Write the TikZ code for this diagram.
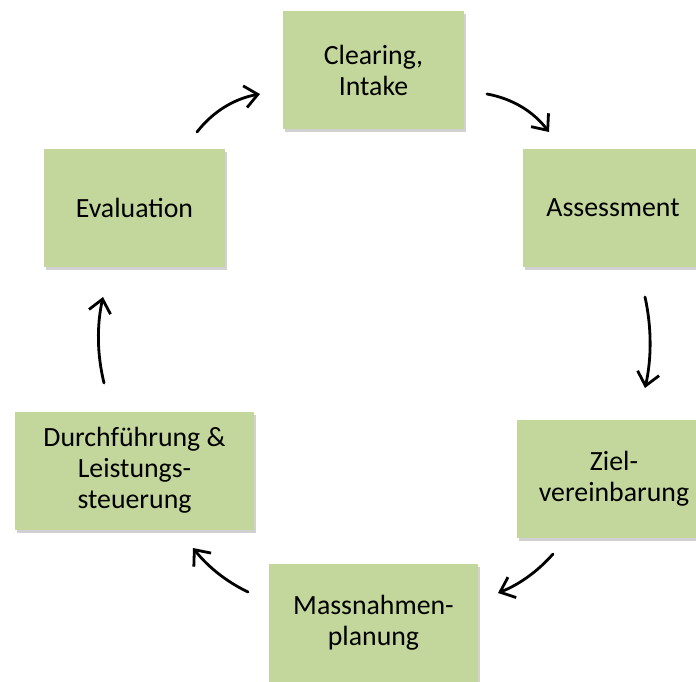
\documentclass[tikz,border=0pt]{standalone}
\usepackage{fontspec}
\setmainfont{Carlito}
\usetikzlibrary{arrows.meta,shadows}
\definecolor{boxgreen}{HTML}{C3D69B}
\tikzset{
  stage/.style={fill=boxgreen, draw=none, inner sep=0pt, align=center,
    font=\fontsize{27.8}{31}\selectfont,
    drop shadow={shadow xshift=2pt, shadow yshift=-3pt, fill=black, opacity=0.18}},
  flow/.style={line width=2.8pt, line cap=round, -{Straight Barb[length=13pt,width=22pt,line width=2.8pt]}}
}
\begin{document}
\begin{tikzpicture}[x=1pt,y=-1pt]
\useasboundingbox (0,0) rectangle (696,682);
\clip (0,0) rectangle (696,682);
\node[stage, minimum width=181pt, minimum height=118pt] (clear) at (373.5,70) {Clearing,\\Intake};
\node[stage, minimum width=180pt, minimum height=118pt] (assess) at (613,208) {Assessment};
\node[stage, minimum width=194pt, minimum height=118pt] (ziel) at (614,479) {Ziel-\\vereinbarung};
\node[stage, minimum width=209pt, minimum height=118pt] (mass) at (373.5,623) {Massnahmen-\\planung};
\node[stage, minimum width=239pt, minimum height=118pt] (durch) at (134.5,470.5) {Durchführung \&\\Leistungs-\\steuerung};
\node[stage, minimum width=181pt, minimum height=118pt] (eval) at (134.5,208) {Evaluation};

\coordinate (a1s) at (197,132); \coordinate (a1e) at (260,94);
\coordinate (a2s) at (487,94);  \coordinate (a2e) at (549,132);
\coordinate (a3s) at (645,297); \coordinate (a3e) at (645,388);
\coordinate (a4s) at (553,554); \coordinate (a4e) at (498,593);
\coordinate (a5s) at (248,592); \coordinate (a5e) at (193,548);
\coordinate (a6s) at (104,383); \coordinate (a6e) at (103,297);

\draw[flow] (a1s) .. controls (213.2,111.3) and (234.2,98.7) .. (a1e);
\draw[flow] (a2s) .. controls (512.5,98.7) and (533.1,111.3) .. (a2e);
\draw[flow] (a3s) .. controls (651.7,327.3) and (651.7,358.3) .. (a3e);
\draw[flow] (a4s) .. controls (537.7,571.4) and (519.4,584.4) .. (a4e);
\draw[flow] (a5s) .. controls (226.3,581.6) and (208,566.9) .. (a5e);
\draw[flow] (a6s) .. controls (97,354.3) and (96.7,325.7) .. (a6e);
\end{tikzpicture}
\end{document}
